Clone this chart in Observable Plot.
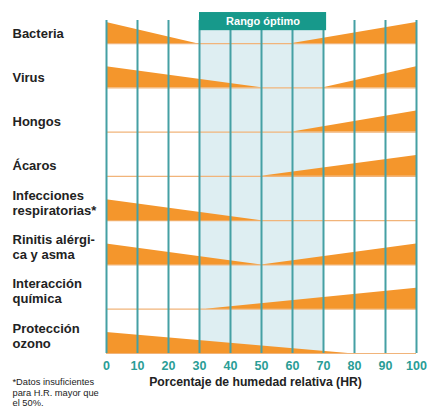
<!DOCTYPE html>
<html>
<head>
<meta charset="utf-8">
<script src="https://cdn.jsdelivr.net/npm/d3@7"></script>
<script src="https://cdn.jsdelivr.net/npm/@observablehq/plot@0.6"></script>
<style>
  body { margin: 0; background: #fff; }
</style>
</head>
<body>
<div id="chart"></div>
<script>
// Categories (top to bottom)
const categories = [
  "Bacteria",
  "Virus",
  "Hongos",
  "Ácaros",
  "Infecciones\nrespiratorias*",
  "Rinitis alérgi-\nca y asma",
  "Interacción\nquímica",
  "Protección\nozono"
];
// Humidity at which the low-humidity wedge (full at 0%) vanishes
const leftEnd = [29, 50, null, null, 50, 50, null, 78];
// Humidity at which the high-humidity wedge (full at 100%) begins
const rightStart = [60, 70, 60, 50, null, 50, 32, null];
const xTicks = [0, 10, 20, 30, 40, 50, 60, 70, 80, 90, 100];
const optimalRange = [30, 70];
const optimalLabel = "Rango óptimo";
const axisTitle = "Porcentaje de humedad relativa (HR)";
const footnote = "*Datos insuficientes\npara H.R. mayor que\nel 50%.";

// Build wedge polygons
const H = 0.474;
const wedges = [];
categories.forEach((c, i) => {
  if (leftEnd[i] != null) {
    wedges.push({key: "L" + i, row: i, x: 0, h: 1});
    wedges.push({key: "L" + i, row: i, x: leftEnd[i], h: 0});
  }
  if (rightStart[i] != null) {
    wedges.push({key: "R" + i, row: i, x: rightStart[i], h: 0});
    wedges.push({key: "R" + i, row: i, x: 100, h: 1});
  }
});
const rows = categories.map((c, i) => ({label: c, row: i}));

const TOP = -0.52, BOTTOM = 7;
const orange = "#f4962c";
const teal = "#45a0a4";

const chart = Plot.plot({
  width: 428,
  height: 414,
  marginLeft: 106,
  marginRight: 12,
  marginTop: 20,
  marginBottom: 61,
  style: {fontFamily: "'Liberation Sans', Arial, sans-serif", background: "#fff"},
  x: {domain: [0, 100], axis: null},
  y: {domain: [BOTTOM, TOP], axis: null},
  marks: [
    Plot.rect([optimalRange], {x1: d => d[0], x2: d => d[1], y1: TOP, y2: BOTTOM, fill: "#deeef2"}),
    Plot.ruleY(rows, {y: "row", x1: 0, x2: 100, stroke: "#f1b47a", strokeWidth: 1.2}),
    Plot.area(wedges, {x1: "x", y1: "row", y2: d => d.row - H * d.h, z: "key", fill: orange, curve: "linear"}),
    Plot.ruleX(xTicks, {x: d => d, y1: TOP, y2: BOTTOM, stroke: teal, strokeWidth: 2}),
    Plot.rect([optimalRange], {x1: d => d[0], x2: d => d[1] + 1, y1: -0.70, y2: -0.29, fill: "#17998b"}),
    Plot.text([optimalLabel], {x: (optimalRange[0] + optimalRange[1] + 1) / 2, y: -0.495, fill: "white", fontWeight: "bold", fontSize: 11}),
    Plot.text(rows, {y: "row", text: "label", frameAnchor: "left", dx: -94, dy: -6, textAnchor: "start", lineAnchor: "bottom", lineHeight: 1.15, fontSize: 13, fontWeight: "bold", fill: "#222"}),
    Plot.axisX(xTicks, {tickSize: 0, tickPadding: 8, fill: "#2a9d96", fontWeight: "bold", fontSize: 12.5, label: null}),
    Plot.text([axisTitle], {frameAnchor: "bottom", dx: -6, dy: 29, lineAnchor: "middle", fontWeight: "bold", fontSize: 12.2, fill: "#222"}),
    Plot.text([footnote], {frameAnchor: "bottom-left", dx: -94, dy: 24, textAnchor: "start", lineAnchor: "top", lineHeight: 1.15, fontSize: 9.3, fill: "#222"})
  ]
});
document.getElementById("chart").appendChild(chart);
</script>
</body>
</html>
